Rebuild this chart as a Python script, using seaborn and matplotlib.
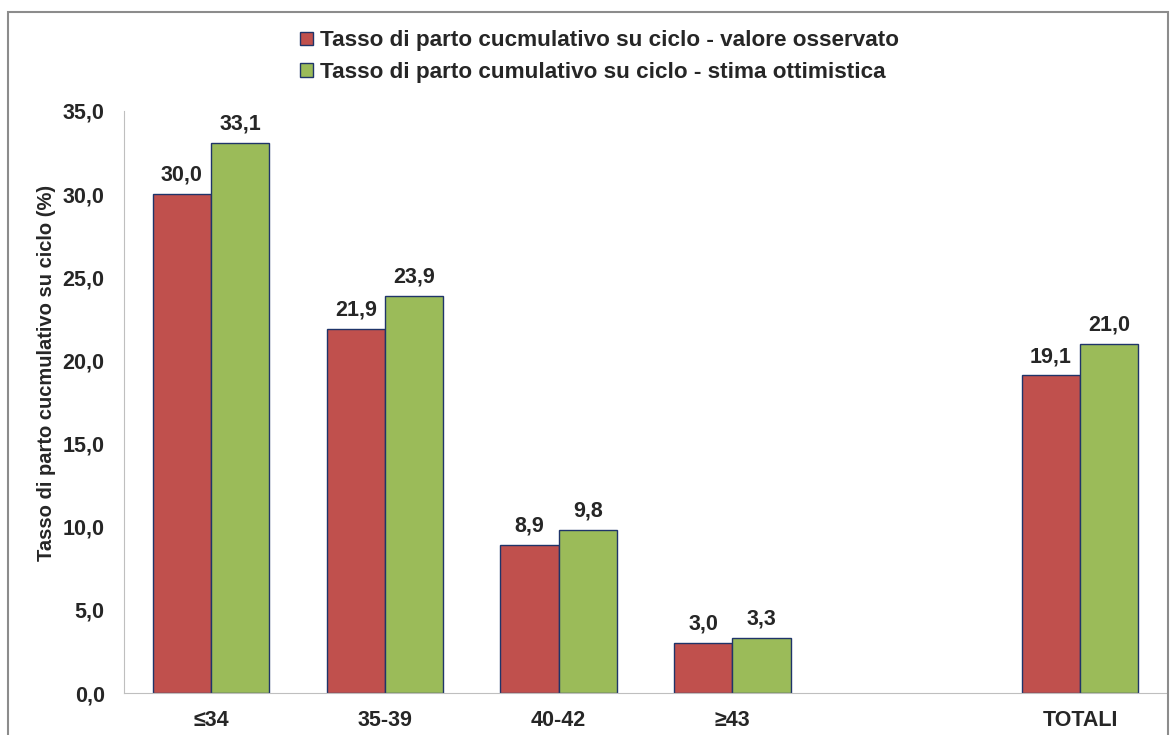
import matplotlib
matplotlib.use("Agg")
import matplotlib.pyplot as plt
import matplotlib.patches as mpatches
import pandas as pd
import seaborn as sns

# chart data
categories = ["≤34", "35-39", "40-42", "≥43", " ", "TOTALI"]
series_names = ["Tasso di parto cucmulativo su ciclo - valore osservato",
                "Tasso di parto cumulativo su ciclo - stima ottimistica"]
observed = [30.0, 21.9, 8.9, 3.0, None, 19.1]
optimistic = [33.1, 23.9, 9.8, 3.3, None, 21.0]
y_ticks = [0, 5, 10, 15, 20, 25, 30, 35]
y_label = "Tasso di parto cucmulativo su ciclo (%)"

colors = ["#C0504D", "#9BBB59"]
edge = "#1F3469"

rows = []
for cat, v1, v2 in zip(categories, observed, optimistic):
    if v1 is not None:
        rows.append({"cat": cat, "serie": series_names[0], "val": v1})
        rows.append({"cat": cat, "serie": series_names[1], "val": v2})
df = pd.DataFrame(rows)

sns.set_style("white")
plt.rcParams["font.family"] = ["Liberation Sans", "DejaVu Sans"]
plt.rcParams["font.weight"] = "bold"

fig = plt.figure(figsize=(11.71, 7.35), dpi=100)
ax = fig.add_axes([0.106, 0.0571, 0.8906, 0.792])

sns.barplot(data=df, x="cat", y="val", hue="serie", order=categories,
            hue_order=series_names, palette=colors, width=0.67,
            edgecolor=edge, linewidth=1.0, saturation=1, legend=False, ax=ax)

for cont in ax.containers:
    labels = [f"{b.get_height():.1f}".replace(".", ",") for b in cont]
    ax.bar_label(cont, labels=labels, padding=6, fontsize=15.5, fontweight="bold")

ax.set_ylim(0, 35)
ax.set_yticks(y_ticks)
ax.set_yticklabels([f"{t:.1f}".replace(".", ",") for t in y_ticks], fontsize=15.5, fontweight="bold")
ax.set_xlim(-0.5, len(categories) - 0.5)
ax.tick_params(axis="x", labelsize=15.5, length=0, pad=12)
ax.tick_params(axis="y", length=0, pad=14)
for lab in ax.get_xticklabels():
    lab.set_fontweight("bold")
ax.set_xlabel("")
ax.set_ylabel(y_label, fontsize=14.5, fontweight="bold")
ax.yaxis.set_label_coords(-0.065, 0.55)

for side in ["top", "right"]:
    ax.spines[side].set_visible(False)
ax.spines["left"].set_color("#BFBFBF")
ax.spines["bottom"].set_color("#BFBFBF")

handles = [mpatches.Patch(facecolor=c, edgecolor=edge, linewidth=1.0, label=n)
           for c, n in zip(colors, series_names)]
fig.legend(handles=handles, loc="center", bbox_to_anchor=(0.512, 0.923), frameon=False,
           prop={"size": 16.2, "weight": "bold"}, handlelength=0.55, handleheight=0.55,
           handletextpad=0.3, labelspacing=0.47)

# outer chart frame
frame = mpatches.Rectangle((8 / 1171, -0.05), (1168 - 8) / 1171, 1.05 - 12 / 735,
                           transform=fig.transFigure, fill=False, edgecolor="#8C8C8C",
                           linewidth=1.5, clip_on=False)
fig.patches.append(frame)

fig.savefig("out.png", dpi=100)
